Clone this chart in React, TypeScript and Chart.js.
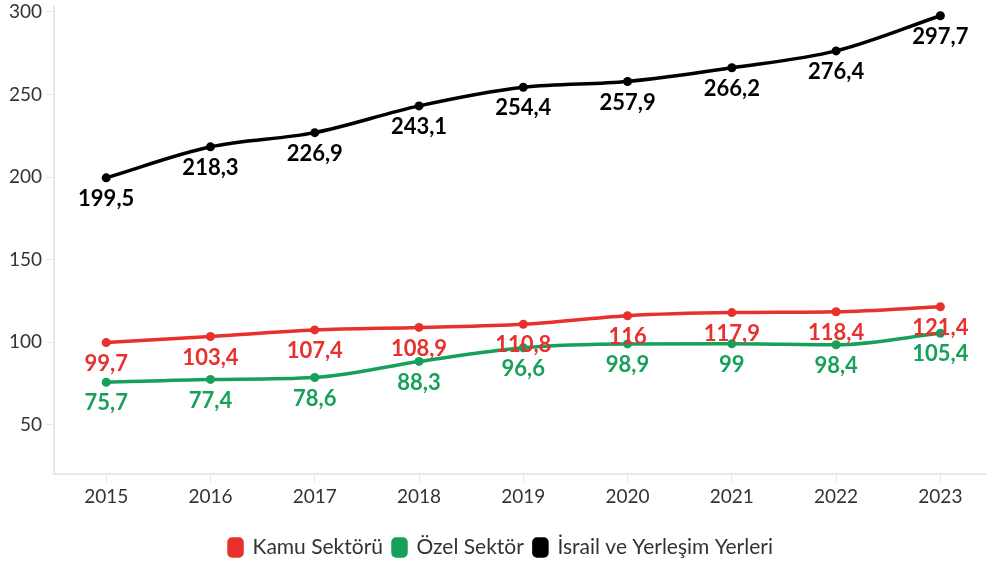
import React, { useEffect, useRef } from "react";
import { Chart, registerables } from "chart.js";

Chart.register(...registerables);

const years = ["2015", "2016", "2017", "2018", "2019", "2020", "2021", "2022", "2023"];
const kamu = [99.7, 103.4, 107.4, 108.9, 110.8, 116, 117.9, 118.4, 121.4];
const ozel = [75.7, 77.4, 78.6, 88.3, 96.6, 98.9, 99, 98.4, 105.4];
const israil = [199.5, 218.3, 226.9, 243.1, 254.4, 257.9, 266.2, 276.4, 297.7];
const yTicks = [50, 100, 150, 200, 250, 300];

const RED = "#e8302c";
const GREEN = "#17a05a";
const BLACK = "#000000";
const FONT = "Lato, 'Noto Sans', sans-serif";

const fmt = (v: number) => String(v).replace(".", ",");

const labelPlugin = {
  id: "valueLabels",
  afterDatasetsDraw(chart: any) {
    const ctx = chart.ctx;
    ctx.save();
    ctx.font = `bold 22px ${FONT}`;
    ctx.textAlign = "center";
    ctx.textBaseline = "middle";
    chart.data.datasets.forEach((ds: any, i: number) => {
      const meta = chart.getDatasetMeta(i);
      meta.data.forEach((pt: any, j: number) => {
        ctx.fillStyle = ds.borderColor;
        ctx.fillText(fmt(ds.data[j]), pt.x, pt.y + 21);
      });
    });
    ctx.restore();
  },
};

export default function App() {
  const ref = useRef<HTMLCanvasElement>(null);
  useEffect(() => {
    if (!ref.current) return;
    const mk = (label: string, data: number[], color: string) => ({
      label,
      data,
      borderColor: color,
      backgroundColor: color,
      borderWidth: 3.5,
      pointRadius: 4.5,
      pointBackgroundColor: color,
      pointBorderWidth: 0,
      cubicInterpolationMode: "monotone",
    });
    const chart = new Chart(ref.current, {
      type: "line",
      data: {
        labels: years,
        datasets: [
          mk("Kamu Sektörü", kamu, RED),
          mk("Özel Sektör", ozel, GREEN),
          mk("İsrail ve Yerleşim Yerleri", israil, BLACK),
        ],
      },
      options: {
        animation: false,
        responsive: false,
        layout: { padding: { top: 6, right: 0, left: 5, bottom: 0 } },
        plugins: {
          legend: {
            position: "bottom",
            labels: {
              font: { family: FONT, size: 21 },
              color: "#333",
              boxWidth: 13,
              boxHeight: 17,
              useBorderRadius: true,
              borderRadius: 3,
              padding: 10,
            },
          },
          tooltip: { enabled: false },
        },
        scales: {
          x: {
            offset: true,
            grid: { drawOnChartArea: false, drawTicks: true, tickLength: 8, color: "#e8e8e8" },
            border: { color: "#e8e8e8", width: 2 },
            ticks: { font: { family: FONT, size: 19 }, color: "#333", padding: 3 },
            afterFit: (axis: any) => {
              axis.height += 16;
            },
          },
          y: {
            min: 20,
            max: 303.6,
            afterBuildTicks: (axis: any) => {
              axis.ticks = yTicks.map((v) => ({ value: v }));
            },
            afterFit: (axis: any) => {
              axis.paddingTop = 0;
              axis.paddingBottom = 0;
            },
            grid: { drawOnChartArea: false, drawTicks: true, tickLength: 8, color: "#e8e8e8" },
            border: { color: "#e8e8e8", width: 2 },
            ticks: { font: { family: FONT, size: 19 }, color: "#333", padding: 4 },
          },
        },
      },
      plugins: [labelPlugin],
    } as any);
    return () => chart.destroy();
  }, []);
  return (
    <div style={{ position: "absolute", left: 0, top: 0, width: 986, height: 568, overflow: "hidden", background: "#fff" }}>
      <canvas ref={ref} width={997} height={568} style={{ display: "block" }} />
    </div>
  );
}
